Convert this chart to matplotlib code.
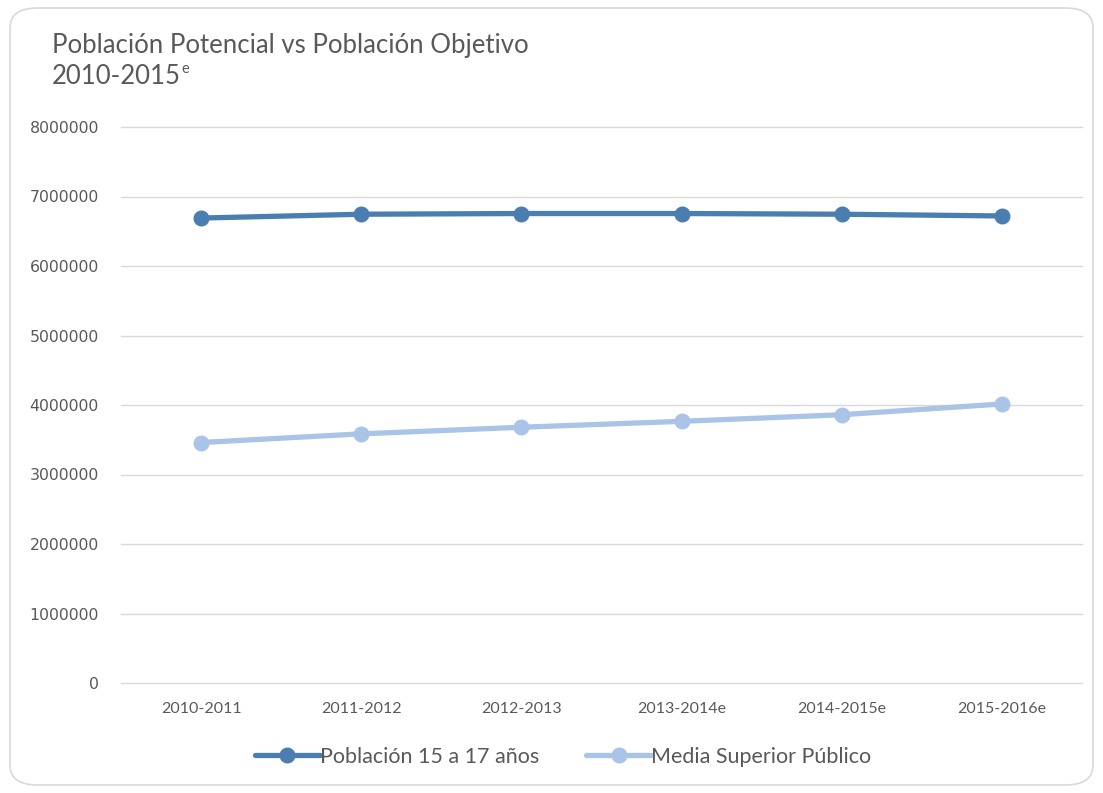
import matplotlib
matplotlib.use("Agg")
import matplotlib.pyplot as plt
from matplotlib.patches import FancyBboxPatch

categories = ["2010-2011", "2011-2012", "2012-2013", "2013-2014e", "2014-2015e", "2015-2016e"]
poblacion_15_17 = [6690000, 6745000, 6755000, 6755000, 6745000, 6720000]
media_superior = [3460000, 3585000, 3680000, 3765000, 3860000, 4015000]
y_ticks = [0, 1000000, 2000000, 3000000, 4000000, 5000000, 6000000, 7000000, 8000000]

DARK = "#4A7EB0"
LIGHT = "#A9C4E6"
TXT = "#595959"

fig = plt.figure(figsize=(11.03, 7.93), dpi=100)
fig.patch.set_facecolor("white")

# rounded chart border
border = FancyBboxPatch((10/1103, 8/793), (1083/1103), (777/793),
                        boxstyle="round,pad=0,rounding_size=0.025",
                        transform=fig.transFigure, facecolor="none",
                        edgecolor="#D9D9D9", linewidth=1.2, zorder=-5)
fig.patches.append(border)

ax = fig.add_axes([121/1103, 1 - 683/793, 961/1103, 556/793])
ax.set_facecolor("none")
x = list(range(len(categories)))
l1, = ax.plot(x, poblacion_15_17, color=DARK, lw=3.8, marker="o", ms=10.5,
              solid_capstyle="round", zorder=3, label="Población 15 a 17 años")
l2, = ax.plot(x, media_superior, color=LIGHT, lw=3.8, marker="o", ms=10.5,
              solid_capstyle="round", zorder=3, label="Media Superior Público")

ax.set_xlim(-0.5, len(categories) - 0.5)
ax.set_ylim(0, 8000000)
ax.set_yticks(y_ticks)
ax.set_yticklabels([str(v) for v in y_ticks], family="DejaVu Sans", fontsize=11.3, color=TXT)
ax.set_xticks(x)
ax.set_xticklabels(categories, family="Lato", fontsize=11.5, color=TXT)
for yv in y_ticks:
    ax.axhline(yv, color="#D9D9D9", lw=1, zorder=1, clip_on=False)
for s in ax.spines.values():
    s.set_visible(False)
ax.tick_params(axis="both", length=0)
ax.tick_params(axis="y", pad=16)
ax.tick_params(axis="x", pad=14)

t1 = fig.text(52/1103, 1 - 46/793, "Población Potencial vs Población Objetivo",
              fontsize=18.5, color=TXT, family="Lato", va="center", ha="left")
t2 = fig.text(52/1103, 1 - 76/793, "2010-2015",
              fontsize=18.5, color=TXT, family="Lato", va="center", ha="left")
fig.add_artist(matplotlib.text.Annotation("e", xy=(1.0, 0.5), xycoords=t2,
               fontsize=10.5, color=TXT, family="Lato", va="bottom", ha="left"))

leg = fig.legend(handles=[l1, l2], loc="center", bbox_to_anchor=(563/1103, 1 - 757/793),
                 ncol=2, frameon=False, handlelength=3.0,
                 handletextpad=0.0, columnspacing=2.2,
                 prop={"family": "Lato", "size": 15.5})
for t in leg.get_texts():
    t.set_color(TXT)

fig.savefig("out.png", dpi=100, facecolor="white")
